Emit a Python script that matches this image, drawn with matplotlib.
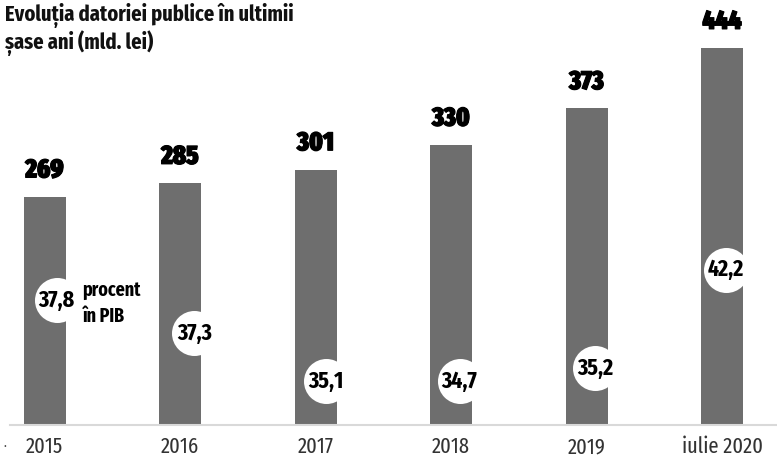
import matplotlib
matplotlib.use("Agg")
import matplotlib.pyplot as plt
import matplotlib.patheffects as pe
from matplotlib import font_manager

years = ["2015", "2016", "2017", "2018", "2019", "iulie 2020"]
debt = [269, 285, 301, 330, 373, 444]
pct_gdp = ["37,8", "37,3", "35,1", "34,7", "35,2", "42,2"]

# layout of the white circles (x offset from bar center, height in data units)
circle_dx = [0.09, 0.107, 0.077, 0.063, 0.066, 0.03]
circle_y = [147, 108, 52, 52, 67, 183]

names = {f.name for f in font_manager.fontManager.ttflist}
FONT = "DejaVu Sans"
for cand in ["Fira Sans Extra Condensed", "Fira Sans Condensed", "PT Sans Narrow",
             "Roboto Condensed", "IBM Plex Sans Condensed", "Liberation Sans Narrow"]:
    if cand in names:
        FONT = cand
        break
plt.rcParams["font.family"] = [FONT, "DejaVu Sans"]

W, H = 777, 463
fig = plt.figure(figsize=(W / 100, H / 100), dpi=100)
fig.patch.set_facecolor("white")

px_per_unit = 0.8487
base_px = 425
ax = fig.add_axes([10 / W, (H - base_px) / H, (W - 10) / W, base_px / H])
ax.set_ylim(0, base_px / px_per_unit)
spacing = 135.5
ax.set_xlim((10 - 44.5) / spacing, (W - 44.5) / spacing)

x = list(range(len(years)))
ax.bar(x, debt, width=42 / spacing, color="#6e6e6e", zorder=2)

for xi, v in zip(x, debt):
    ax.annotate(str(v), (xi, v), xytext=(0, 19), textcoords="offset points",
                ha="center", va="center", fontsize=19, fontweight=900,
                color="black",
                path_effects=[pe.withStroke(linewidth=0.8, foreground="black")])

cx = [xi + d for xi, d in zip(x, circle_dx)]
ax.scatter(cx, circle_y, s=1050, color="white", zorder=3, linewidths=0)
for xc, yc, t in zip(cx, circle_y, pct_gdp):
    ax.text(xc, yc, t, ha="center", va="center", fontsize=17,
            fontweight="bold", color="black", zorder=4)

ax.text(cx[0] + 0.19, circle_y[0] - 4, "procent\nîn PIB", ha="left", va="center",
        fontsize=14, fontweight="bold", color="black", linespacing=1.45, zorder=4)

for s in ["top", "right", "left"]:
    ax.spines[s].set_visible(False)
ax.spines["bottom"].set_color("#d9d9d9")
ax.spines["bottom"].set_linewidth(1.5)
ax.set_yticks([])
ax.set_xticks(x)
ax.set_xticklabels(years, fontsize=16, color="#333333", fontweight="normal")
ax.tick_params(axis="x", length=0, pad=8)

fig.text(5 / W, 1 - 3 / H, "Evoluția datoriei publice în ultimii\nșase ani (mld. lei)",
         ha="left", va="top", fontsize=16, fontweight="bold", color="#111111",
         linespacing=1.1)
fig.text(3 / W, 1 - 447 / H, "·", ha="left", va="center", fontsize=10, color="#444444")

fig.savefig("out.png", dpi=100, facecolor="white")
